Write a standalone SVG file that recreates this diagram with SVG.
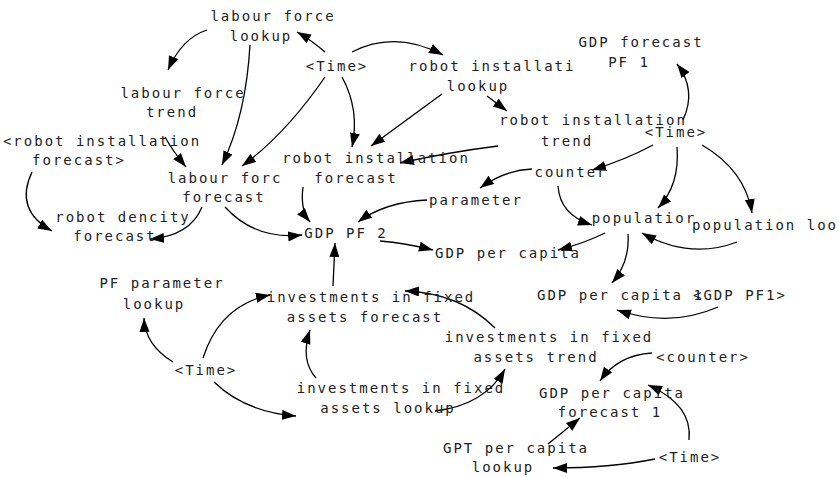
<svg xmlns="http://www.w3.org/2000/svg" width="838" height="477" viewBox="0 0 838 477">
<style>
text{font-family:"DejaVu Sans Mono","Liberation Mono",monospace;font-size:14px;letter-spacing:2px;fill:#222;text-anchor:middle}
text.s{text-anchor:start}
.c path{fill:none;stroke:#000;stroke-width:1.3;marker-end:url(#ah)}
</style>
<defs>
<marker id="ah" markerUnits="userSpaceOnUse" markerWidth="15" markerHeight="11" refX="14" refY="5" orient="auto" viewBox="0 0 15 11">
<path d="M0,0 L14,5 L0,10 z" fill="#000"/>
</marker>
</defs>
<rect width="838" height="477" fill="#fff"/>
<g class="c" id="connectors">
<path d="M325,52 Q311,40 297,32"/>
<path d="M207,30 Q182,38 168,70"/>
<path d="M250,45 Q246,115 222,165"/>
<path d="M325,77 Q285,135 242,166"/>
<path d="M165,137 Q172,150 186,167"/>
<path d="M32,172 Q14,210 52,231"/>
<path d="M202,207 Q190,236 150,239"/>
<path d="M225,207 Q255,240 302,235"/>
<path d="M342,77 Q360,110 352,147"/>
<path d="M352,52 Q395,30 443,55"/>
<path d="M442,94 L371,146"/>
<path d="M487,96 L507,111"/>
<path d="M498,146 Q450,152 400,163"/>
<path d="M303,187 Q300,210 310,222"/>
<path d="M427,200 Q385,202 358,222"/>
<path d="M532,169 Q505,170 480,188"/>
<path d="M683,120 Q697,90 677,64"/>
<path d="M653,145 Q625,160 592,170"/>
<path d="M677,147 Q680,185 658,208"/>
<path d="M702,145 Q745,170 752,213"/>
<path d="M558,186 Q560,215 592,225"/>
<path d="M737,242 Q690,260 642,233"/>
<path d="M605,233 Q585,243 558,250"/>
<path d="M628,234 Q630,262 612,283"/>
<path d="M718,307 Q670,328 617,310"/>
<path d="M380,241 Q405,243 433,250"/>
<path d="M333,286 L335,243"/>
<path d="M173,362 Q145,345 144,318"/>
<path d="M203,358 Q220,305 270,295"/>
<path d="M214,382 Q245,412 296,416"/>
<path d="M495,328 Q460,293 405,291"/>
<path d="M316,378 Q300,360 310,330"/>
<path d="M435,411 Q485,405 505,369"/>
<path d="M652,353 Q618,355 600,381"/>
<path d="M689,440 Q693,405 648,385"/>
<path d="M548,444 L580,418"/>
<path d="M655,459 Q610,468 553,468"/>
</g>
<g id="labour_force_lookup"><text x="273" y="21">labour force</text><text x="261" y="41">lookup</text></g>
<g id="time_1"><text x="337" y="71">&lt;Time&gt;</text></g>
<g id="robot_installation_lookup"><text x="492" y="71">robot installati</text><text x="478" y="91">lookup</text></g>
<g id="gdp_forecast_pf1"><text x="641" y="47">GDP forecast</text><text x="629" y="67">PF 1</text></g>
<g id="labour_force_trend"><text x="183" y="98">labour force</text><text x="172" y="117">trend</text></g>
<g id="robot_installation_trend"><text x="593" y="125">robot installation</text><text x="567" y="146">trend</text></g>
<g id="time_2"><text x="676" y="137">&lt;Time&gt;</text></g>
<g id="robot_installation_forecast_shadow"><text x="102" y="146">&lt;robot installation</text><text x="79" y="165">forecast&gt;</text></g>
<g id="robot_installation_forecast"><text x="376" y="163">robot installation</text><text x="356" y="183">forecast</text></g>
<g id="counter"><text x="571" y="177">counter</text></g>
<g id="labour_force_forecast"><text x="225" y="183">labour forc</text><text x="224" y="202">forecast</text></g>
<g id="parameter"><text x="476" y="205">parameter</text></g>
<g id="robot_dencity_forecast"><text x="123" y="222">robot dencity</text><text x="115" y="241">forecast</text></g>
<g id="population"><text x="644" y="223">populatior</text></g>
<g id="population_lookup"><text class="s" x="692" y="230">population loo</text></g>
<g id="gdp_pf2"><text x="346" y="238">GDP PF 2</text></g>
<g id="gdp_per_capita"><text x="508" y="258">GDP per capita</text></g>
<g id="pf_parameter_lookup"><text x="162" y="288">PF parameter</text><text x="154" y="309">lookup</text></g>
<g id="gdp_per_capita_1"><text class="s" x="537" y="300">GDP per capita 1</text></g>
<g id="gdp_pf1_shadow"><text class="s" x="693" y="300">&lt;GDP PF1&gt;</text></g>
<g id="investments_forecast"><text x="371" y="302">investments in fixed</text><text x="365" y="322">assets forecast</text></g>
<g id="investments_trend"><text x="549" y="342">investments in fixed</text><text x="536" y="362">assets trend</text></g>
<g id="counter_shadow"><text x="703" y="362">&lt;counter&gt;</text></g>
<g id="time_3"><text x="206" y="375">&lt;Time&gt;</text></g>
<g id="investments_lookup"><text x="401" y="393">investments in fixed</text><text x="388" y="413">assets lookup</text></g>
<g id="gdp_per_capita_forecast_1"><text x="612" y="398">GDP per capita</text><text x="610" y="417">forecast 1</text></g>
<g id="gpt_per_capita_lookup"><text x="516" y="453">GPT per capita</text><text x="503" y="472">lookup</text></g>
<g id="time_4"><text x="690" y="462">&lt;Time&gt;</text></g>
</svg>
